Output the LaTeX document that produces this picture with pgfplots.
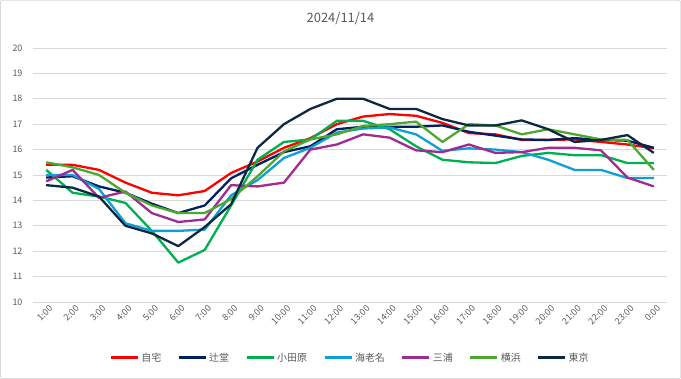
\documentclass[border=0pt]{standalone}
\usepackage{pgfplots}
\pgfplotsset{compat=1.18}
\usepackage{pgfplotstable}
\usepackage{fontspec}
\setmainfont{Noto Sans CJK JP}
\definecolor{cJitaku}{HTML}{FF0000}
\definecolor{cTsuji}{HTML}{002060}
\definecolor{cOdawara}{HTML}{00B050}
\definecolor{cEbina}{HTML}{0F9ED5}
\definecolor{cMiura}{HTML}{A02B93}
\definecolor{cYoko}{HTML}{4EA72E}
\definecolor{cTokyo}{HTML}{0E2841}
\definecolor{gridc}{HTML}{D9D9D9}
\definecolor{txt}{HTML}{595959}

\pgfplotstableread{
x jitaku tsuji odawara ebina miura yoko tokyo
0  15.4 14.9 15.2 15.0 14.75 15.5 14.6
1  15.4 14.95 14.3 15.0 15.2 15.3 14.5
2  15.2 14.55 14.15 14.45 14.1 15.0 14.15
3  14.7 14.3 13.9 13.1 14.35 14.3 13.0
4  14.3 13.87 12.8 12.8 13.5 13.8 12.7
5  14.2 13.5 11.55 12.8 13.15 13.5 12.2
6  14.37 13.8 12.05 12.85 13.25 13.5 12.95
7  15.08 14.87 13.8 14.2 14.6 14.05 13.85
8  15.53 15.4 15.6 14.8 14.55 14.95 16.07
9  16.07 15.9 16.3 15.67 14.7 15.93 17.0
10 16.45 16.13 16.4 16.07 16.0 16.4 17.6
11 17.0 16.8 17.13 16.67 16.2 16.6 18.0
12 17.3 16.9 17.13 16.83 16.6 16.93 18.0
13 17.4 16.9 16.8 16.87 16.47 17.0 17.6
14 17.33 16.9 16.13 16.6 15.97 17.1 17.6
15 17.05 16.95 15.6 15.95 15.9 16.3 17.2
16 16.65 16.7 15.5 16.05 16.2 17.0 16.95
17 16.6 16.55 15.47 16.0 15.87 16.95 16.95
18 16.38 16.4 15.75 15.9 15.9 16.6 17.15
19 16.38 16.38 15.87 15.6 16.07 16.8 16.8
20 16.4 16.45 15.78 15.2 16.07 16.6 16.3
21 16.3 16.38 15.78 15.2 15.97 16.4 16.38
22 16.2 16.35 15.47 14.88 14.9 16.38 16.57
23 16.05 16.07 15.47 14.88 14.55 15.2 15.87
}\datatable

\begin{document}
\begin{tikzpicture}
\draw[gridc, line width=0.75bp, rounded corners=2bp] (0.4bp,0.4bp) rectangle (680.6bp,378.6bp);
\node[text=txt, font=\fontsize{13}{15}\selectfont] at (340.5bp,360bp) {2024/11/14};
\begin{axis}[
  at={(33bp,77bp)}, anchor=south west,
  scale only axis, width=634bp, height=254bp,
  xmin=-0.5, xmax=23.5, ymin=10, ymax=20,
  ytick={10,11,...,20},
  xtick={0,...,23},
  xticklabels={1:00,2:00,3:00,4:00,5:00,6:00,7:00,8:00,9:00,10:00,11:00,12:00,13:00,14:00,15:00,16:00,17:00,18:00,19:00,20:00,21:00,22:00,23:00,0:00},
  x tick label style={rotate=45, anchor=east, font=\fontsize{9}{10}\selectfont, text=txt, xshift=1bp, yshift=-7bp, inner sep=1bp},
  y tick label style={font=\fontsize{9}{10}\selectfont, text=txt, xshift=-7bp},
  /pgf/number format/assume math mode=true,
  axis line style={draw=none},
  major tick length=0pt,
  ymajorgrids, grid style={gridc, line width=0.75bp},
  legend columns=7,
  legend style={at={(0.5,-0.22)}, anchor=center, draw=none, font=\fontsize{10}{12}\selectfont, text=txt,
    /tikz/every even column/.append style={column sep=14bp}},
  legend image code/.code={\draw[#1, line width=3bp] (0bp,0bp) -- (27bp,0bp);},
  every axis plot/.append style={line width=2.3bp, mark=none, line join=round},
]
\addplot[cJitaku] table[x=x,y=jitaku]{\datatable}; \addlegendentry{自宅}
\addplot[cTsuji] table[x=x,y=tsuji]{\datatable}; \addlegendentry{辻堂}
\addplot[cOdawara] table[x=x,y=odawara]{\datatable}; \addlegendentry{小田原}
\addplot[cEbina] table[x=x,y=ebina]{\datatable}; \addlegendentry{海老名}
\addplot[cMiura] table[x=x,y=miura]{\datatable}; \addlegendentry{三浦}
\addplot[cYoko] table[x=x,y=yoko]{\datatable}; \addlegendentry{横浜}
\addplot[cTokyo] table[x=x,y=tokyo]{\datatable}; \addlegendentry{東京}
\end{axis}
\end{tikzpicture}
\end{document}
